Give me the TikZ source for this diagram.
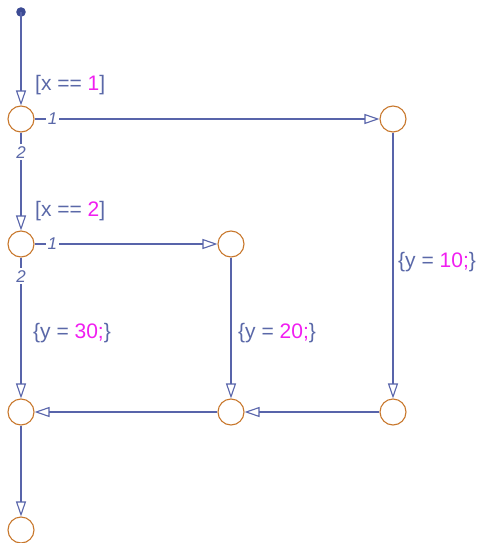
\documentclass[tikz,border=0pt]{standalone}
\usepackage{fontspec}
\setmainfont{Liberation Sans}
\usetikzlibrary{arrows.meta}
\definecolor{wire}{RGB}{88,100,170}
\definecolor{ring}{RGB}{200,120,45}
\definecolor{ink}{RGB}{90,104,168}
\definecolor{num}{RGB}{240,30,240}
\definecolor{dotcol}{RGB}{60,75,148}
\tikzset{
  junction/.style={circle,draw=ring,line width=1.1pt,minimum size=26pt,inner sep=0pt},
  wireline/.style={draw=wire,line width=1.3pt,-{Triangle[open,length=15pt,width=10pt,line width=1.1pt]}},
  cond/.style={anchor=west,inner sep=0pt,text=ink,font=\fontsize{21}{24}\selectfont},
  order/.style={fill=white,inner sep=2pt,text=ink,font=\fontsize{17}{19}\selectfont\itshape},
}
\newcommand{\nm}[1]{\textcolor{num}{#1}}

\begin{document}
\begin{tikzpicture}[x=1pt,y=-1pt]
      \useasboundingbox (0,0) rectangle (478,543);
      \fill[dotcol] (21,12) circle (4.8pt);
      \coordinate (S) at (21,12);

      \node[junction] (A) at (21,119) {};
      \node[junction] (B) at (393,119) {};
      \node[junction] (C) at (21,244) {};
      \node[junction] (D) at (231,244) {};
      \node[junction] (E) at (21,412) {};
      \node[junction] (F) at (231,412) {};
      \node[junction] (G) at (393,412) {};
      \node[junction] (H) at (21,530) {};

      \draw[wireline] (S) -- (A);
      \draw[wireline] (A) -- node[order,pos=0.052] {1} (B);
      \draw[wireline] (A) -- node[order,pos=0.2] {2} (C);
      \draw[wireline] (C) -- node[order,pos=0.098] {1} (D);
      \draw[wireline] (C) -- node[order,pos=0.134] {2} (E);
      \draw[wireline] (B) -- (G);
      \draw[wireline] (D) -- (F);
      \draw[wireline] (G) -- (F);
      \draw[wireline] (F) -- (E);
      \draw[wireline] (E) -- (H);

      \node[cond] (g1) at (35,85) {[x == \nm{1}]};
      \node[cond] (g2) at (35,211) {[x == \nm{2}]};
      \node[cond] (a1) at (398,262) {\{y = \nm{10;}\}};
      \node[cond] (a2) at (238,333) {\{y = \nm{20;}\}};
      \node[cond] (a3) at (33,333) {\{y = \nm{30;}\}};
    \end{tikzpicture}
\end{document}
